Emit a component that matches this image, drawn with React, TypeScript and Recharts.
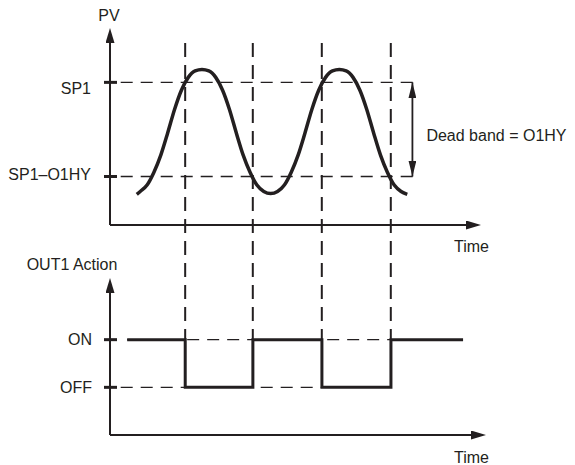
import { LineChart, Line, XAxis, YAxis, ReferenceLine } from 'recharts'

const INK = '#231f20'
const FONT = '"Liberation Sans", Arial, Helvetica, sans-serif'

// PV trace (time units, PV units)
const pvTimes = [
  3.9, 4.4, 5.4, 6.4, 7.4, 8.4, 9.4, 10.4, 11.4, 12.4, 13.4, 14.4, 15.4, 16.4, 17.4, 18.4, 19.4, 20.4, 21.4, 22.4,
  23.4, 24.4, 25.4, 26.4, 27.4, 28.4, 29.4, 30.4, 31.4, 32.4, 33.4, 34.4, 35.4, 36.4, 37.4, 38.4, 39.4, 40.4, 41.4,
  42.4, 43.3,
]
const pvValues = [
  21.5, 23.5, 28, 37, 49, 64.5, 81, 94.5, 103.5, 108, 109, 108, 103.5, 94.5, 81, 64.5, 49, 37, 28, 23.5,
  22, 23.5, 28, 37, 49, 64.5, 81, 94.5, 103.5, 108, 109, 108, 103.5, 94.5, 81, 64.5, 49, 37, 28,
  23.5, 21.5,
]

// set point levels on the PV axis
const pvLevels = [100, 34]
const pvLevelNames = ['SP1', 'SP1–O1HY']

// times where PV crosses SP1 / SP1-O1HY (output switches)
const switchTimes = [10.95, 20.8, 30.85, 40.9]

// OUT1 action trace
const outTimes = [2.5, 10.95, 20.8, 30.85, 40.9, 51.4]
const outStates = [1, 0, 1, 0, 1, 1]
const outLevels = [1, 0]
const outLevelNames = ['ON', 'OFF']

const pvData = pvTimes.map((t, i) => ({ t, pv: pvValues[i] }))
const outData = outTimes.map((t, i) => ({ t, out: outStates[i] }))

// extents of guide lines, in PV units / time units
const guideEnd = 44.6
const bandAt = 44.05
const dropTop = 127.6
const dropBottom = -80.4 // the ON level, seen from the PV chart

const textStyle = { fontSize: 16, fontFamily: FONT, fill: INK }

const levelTick = (values: number[], names: string[], gap: number, nudge: number[]) => (p: any) => {
  const i = values.indexOf(p.payload.value)
  const ax = p.x + gap
  return (
    <g>
      <line x1={ax - 6} x2={ax + 7} y1={p.y} y2={p.y} stroke={INK} strokeWidth={3} />
      <text x={p.x} y={p.y + nudge[i]} textAnchor="end" dominantBaseline="central" {...textStyle}>
        {names[i]}
      </text>
    </g>
  )
}

const timeLabel = (dx: number, dy: number) => (p: any) => {
  const vb = p.viewBox
  return (
    <text x={vb.x + vb.width + dx} y={vb.y + dy} textAnchor="end" dominantBaseline="central" {...textStyle}>
      Time
    </text>
  )
}

const axisTitle = (text: string, dx: number, dy: number) => (p: any) => {
  const vb = p.viewBox
  return (
    <text x={vb.x + vb.width + dx} y={vb.y + dy} textAnchor="middle" dominantBaseline="central" {...textStyle}>
      {text}
    </text>
  )
}

const bandLabel = (p: any) => {
  const vb = p.viewBox
  return (
    <text x={vb.x + 14} y={vb.y + vb.height / 2 + 6} textAnchor="start" dominantBaseline="central" {...textStyle}>
      Dead band = O1HY
    </text>
  )
}

function Head({ id, len, wide, tip }: { id: string; len: number; wide: number; tip: boolean }) {
  return (
    <marker
      id={id}
      markerWidth={len}
      markerHeight={wide}
      viewBox={`0 0 ${len} ${wide}`}
      refX={tip ? len : 1}
      refY={wide / 2}
      orient="auto-start-reverse"
      markerUnits="userSpaceOnUse"
    >
      <path d={`M0,0 L${len},${wide / 2} L0,${wide} Z`} fill={INK} />
    </marker>
  )
}

export default function App() {
  const axisLine = { stroke: INK, strokeWidth: 2 }
  return (
    <div style={{ position: 'absolute', left: 0, top: 0, width: 575, height: 465, background: '#fff' }}>
      <div style={{ position: 'absolute', left: 0, top: 240 }}>
        <LineChart width={575} height={225} data={outData} margin={{ top: 52, right: 103, bottom: 0, left: 0 }}>
          <defs>
            <Head id="outHead" len={15} wide={9} tip={false} />
          </defs>
          <XAxis
            type="number"
            dataKey="t"
            domain={[0, 52.7]}
            allowDataOverflow
            tick={false}
            tickLine={false}
            height={30}
            axisLine={{ ...axisLine, markerEnd: 'url(#outHead)' }}
            label={timeLabel(17, 22)}
          />
          <YAxis
            type="number"
            domain={[-1, 2]}
            allowDataOverflow
            ticks={outLevels}
            interval={0}
            width={110}
            tickSize={0}
            tickMargin={18}
            tickLine={false}
            tick={levelTick(outLevels, outLevelNames, 18, [0, 0])}
            axisLine={{ ...axisLine, markerStart: 'url(#outHead)' }}
            label={axisTitle('OUT1 Action', -38, -28)}
          />
          <ReferenceLine
            segment={[{ x: outTimes[0], y: outLevels[0] }, { x: switchTimes[3], y: outLevels[0] }]}
            stroke={INK}
            strokeWidth={1.3}
            strokeDasharray="12 8"
            ifOverflow="visible"
          />
          <ReferenceLine
            segment={[{ x: 0, y: outLevels[1] }, { x: switchTimes[2], y: outLevels[1] }]}
            stroke={INK}
            strokeWidth={1.3}
            strokeDasharray="12 8"
            strokeDashoffset={9.3}
            ifOverflow="visible"
          />
          <Line
            dataKey="out"
            type="stepAfter"
            stroke={INK}
            strokeWidth={3}
            dot={false}
            activeDot={false}
            isAnimationActive={false}
          />
        </LineChart>
      </div>
      <div style={{ position: 'absolute', left: 0, top: 0 }}>
        <LineChart width={575} height={345} data={pvData} margin={{ top: 42, right: 108, bottom: 80, left: 0 }}>
          <defs>
            <Head id="pvHead" len={15} wide={9} tip={false} />
            <Head id="bandHead" len={16} wide={8} tip={true} />
          </defs>
          <XAxis
            type="number"
            dataKey="t"
            domain={[0, 52]}
            allowDataOverflow
            tick={false}
            tickLine={false}
            height={40}
            axisLine={{ ...axisLine, markerEnd: 'url(#pvHead)' }}
            label={timeLabel(22, 21)}
          />
          <YAxis
            type="number"
            domain={[0, 128.3]}
            allowDataOverflow
            ticks={pvLevels}
            interval={0}
            width={110}
            tickSize={0}
            tickMargin={19}
            tickLine={false}
            tick={levelTick(pvLevels, pvLevelNames, 19, [6, -2.5])}
            axisLine={{ ...axisLine, markerStart: 'url(#pvHead)' }}
            label={axisTitle('PV', -1, -27)}
          />
          {pvLevels.map((lv) => (
            <ReferenceLine
              key={lv}
              segment={[{ x: 0, y: lv }, { x: guideEnd, y: lv }]}
              stroke={INK}
              strokeWidth={1.3}
              strokeDasharray="12 8"
              strokeDashoffset={9.3}
              ifOverflow="visible"
            />
          ))}
          {switchTimes.map((t) => (
            <ReferenceLine
              key={t}
              segment={[{ x: t, y: dropTop }, { x: t, y: dropBottom }]}
              stroke={INK}
              strokeWidth={2}
              strokeDasharray="14 8"
              ifOverflow="visible"
            />
          ))}
          <ReferenceLine
            segment={[{ x: bandAt, y: pvLevels[1] }, { x: bandAt, y: pvLevels[0] }]}
            stroke={INK}
            strokeWidth={1.8}
            markerStart="url(#bandHead)"
            markerEnd="url(#bandHead)"
            ifOverflow="visible"
            label={bandLabel}
          />
          <Line
            dataKey="pv"
            type="monotone"
            stroke={INK}
            strokeWidth={3.5}
            dot={false}
            activeDot={false}
            isAnimationActive={false}
          />
        </LineChart>
      </div>
    </div>
  )
}
